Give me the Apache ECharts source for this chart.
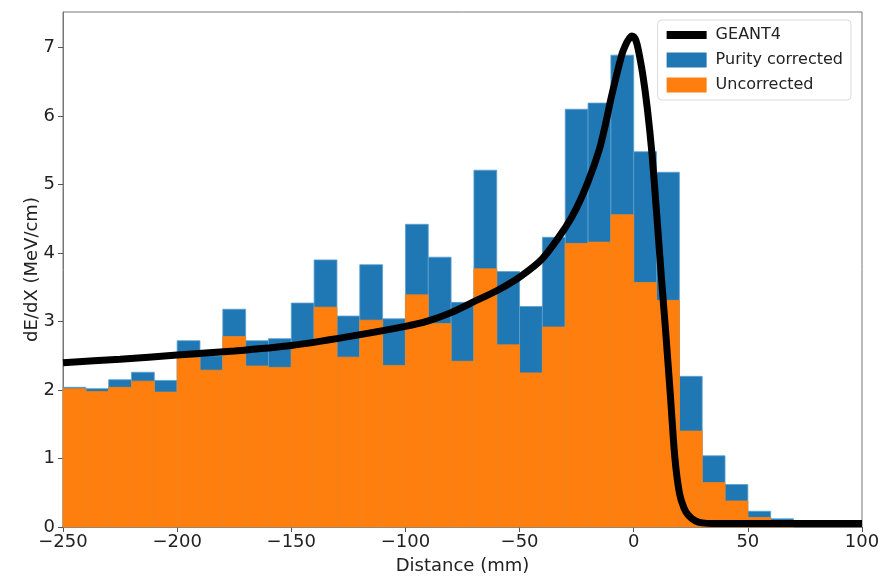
<!DOCTYPE html>
<html>
<head>
<meta charset="utf-8">
<script src="https://cdn.jsdelivr.net/npm/echarts@6/dist/echarts.min.js"></script>
<style>
html,body{margin:0;padding:0;background:#fff;}
#chart{width:896px;height:580px;}
</style>
</head>
<body>
<div id="chart"></div>
<script>
// Histogram bin edges (mm)
const binStarts = [-250,-240,-230,-220,-210,-200,-190,-180,-170,-160,-150,-140,-130,-120,-110,-100,-90,-80,-70,-60,-50,-40,-30,-20,-10,0,10,20,30,40,50,60];
const binEnds   = [-240,-230,-220,-210,-200,-190,-180,-170,-160,-150,-140,-130,-120,-110,-100,-90,-80,-70,-60,-50,-40,-30,-20,-10,0,10,20,30,40,50,60,70];
// dE/dX values (MeV/cm)
const purityCorrected = [2.04,2.02,2.15,2.26,2.14,2.72,2.50,3.18,2.72,2.75,3.27,3.90,3.08,3.83,3.04,4.42,3.94,3.28,5.21,3.73,3.22,4.23,6.10,6.19,6.89,5.48,5.18,2.20,1.04,0.62,0.23,0.12];
const uncorrected     = [2.02,1.98,2.04,2.13,1.97,2.47,2.29,2.78,2.35,2.33,2.68,3.21,2.48,3.02,2.36,3.39,2.97,2.42,3.77,2.66,2.25,2.92,4.14,4.16,4.56,3.57,3.31,1.40,0.65,0.38,0.14,0.05];
// GEANT4 prediction curve
const geantX = [-250,-225,-200,-175,-150,-125,-100,-90,-80,-70,-60,-50,-40,-30,-25,-20,-15,-12.5,-10,-7.5,-5,-3,-2,-1,0,1,2,4,6,8,10,12,14,16,18,20,22,24,27,30,35,50,100];
const geantY = [2.40,2.45,2.51,2.57,2.65,2.78,2.93,3.01,3.13,3.29,3.45,3.65,3.92,4.37,4.66,5.04,5.52,5.86,6.25,6.60,6.92,7.08,7.13,7.17,7.16,7.10,6.97,6.60,6.10,5.45,4.60,3.70,2.85,1.95,1.02,0.50,0.28,0.17,0.09,0.06,0.05,0.05,0.05];
const xTicks = [-250,-200,-150,-100,-50,0,50,100];
const yTicks = [0,1,2,3,4,5,6,7];

const FONT = 'DejaVu Sans';
const chart = echarts.init(document.getElementById('chart'), null, {renderer:'canvas'});

function histData(vals){
  return binStarts.map((s,i)=>[s, binEnds[i], vals[i]]);
}
function makeRender(fill, stroke, lw){
  return function(params, api){
    const x0 = api.value(0), x1 = api.value(1), v = api.value(2);
    const p0 = api.coord([x0, v]);
    const p1 = api.coord([x1, 0]);
    return {
      type:'rect',
      shape:{x:p0[0], y:p0[1], width:p1[0]-p0[0], height:p1[1]-p0[1]},
      style:{fill:fill, stroke:stroke, lineWidth:lw}
    };
  };
}

const option = {
  animation:false,
  backgroundColor:'#fff',
  grid:{left:63, right:34, top:12, bottom:49, show:true, borderColor:'#777', borderWidth:1, backgroundColor:'transparent'},
  legend:{
    orient:'vertical',
    right:45, top:20,
    itemWidth:40, itemHeight:15, itemGap:9,
    padding:[7,8,7,9],
    backgroundColor:'rgba(255,255,255,0.85)',
    borderColor:'#dcdcdc', borderWidth:1, borderRadius:4,
    textStyle:{fontFamily:FONT, fontSize:16, color:'#222', padding:[0,0,0,4]},
    data:[
      {name:'GEANT4', icon:'path://M0,0H40V8H0Z', itemStyle:{color:'#000'}},
      {name:'Purity corrected', icon:'rect', itemStyle:{color:'#1f77b4'}},
      {name:'Uncorrected', icon:'rect', itemStyle:{color:'#ff7f0e'}}
    ]
  },
  xAxis:{
    type:'value', min:-250, max:100, interval:50,
    name:'Distance (mm)', nameLocation:'middle', nameGap:30, nameMoveOverlap:false,
    nameTextStyle:{fontFamily:FONT, fontSize:18, color:'#222'},
    axisLine:{show:true, onZero:false, lineStyle:{color:'#777', width:1}},
    axisTick:{show:true, inside:false, length:5, lineStyle:{color:'#555'}},
    splitLine:{show:false},
    axisLabel:{fontFamily:FONT, fontSize:18, color:'#222', margin:6,
      formatter:function(v){ return xTicks.indexOf(v)>=0 ? String(v).replace('-', '\u2212') : ''; }}
  },
  yAxis:{
    type:'value', min:0, max:7.52, interval:1,
    name:'dE/dX (MeV/cm)', nameLocation:'middle', nameGap:22, nameRotate:90, nameMoveOverlap:false,
    nameTextStyle:{fontFamily:FONT, fontSize:18, color:'#222'},
    axisLine:{show:true, onZero:false, lineStyle:{color:'#777', width:1}},
    axisTick:{show:true, inside:false, length:5, lineStyle:{color:'#555'}},
    splitLine:{show:false},
    axisLabel:{fontFamily:FONT, fontSize:18, color:'#222', margin:8, showMaxLabel:false,
      formatter:function(v){ return yTicks.indexOf(v)>=0 ? String(v) : ''; }}
  },
  series:[
    {
      name:'Purity corrected', type:'custom', z:2,
      itemStyle:{color:'#1f77b4'},
      renderItem:makeRender('#1f77b4','#5d9fd0',0.8),
      encode:{x:[0,1], y:2},
      data:histData(purityCorrected)
    },
    {
      name:'Uncorrected', type:'custom', z:3,
      itemStyle:{color:'#ff7f0e'},
      renderItem:makeRender('#ff7f0e','#f2841a',0.8),
      encode:{x:[0,1], y:2},
      data:histData(uncorrected)
    },
    {
      name:'GEANT4', type:'line', z:5,
      showSymbol:false, symbol:'none',
      smooth:0.25,
      lineStyle:{color:'#000', width:7},
      itemStyle:{color:'#000'},
      data:geantX.map((x,i)=>[x, geantY[i]])
    }
  ]
};
chart.setOption(option);
</script>
</body>
</html>
